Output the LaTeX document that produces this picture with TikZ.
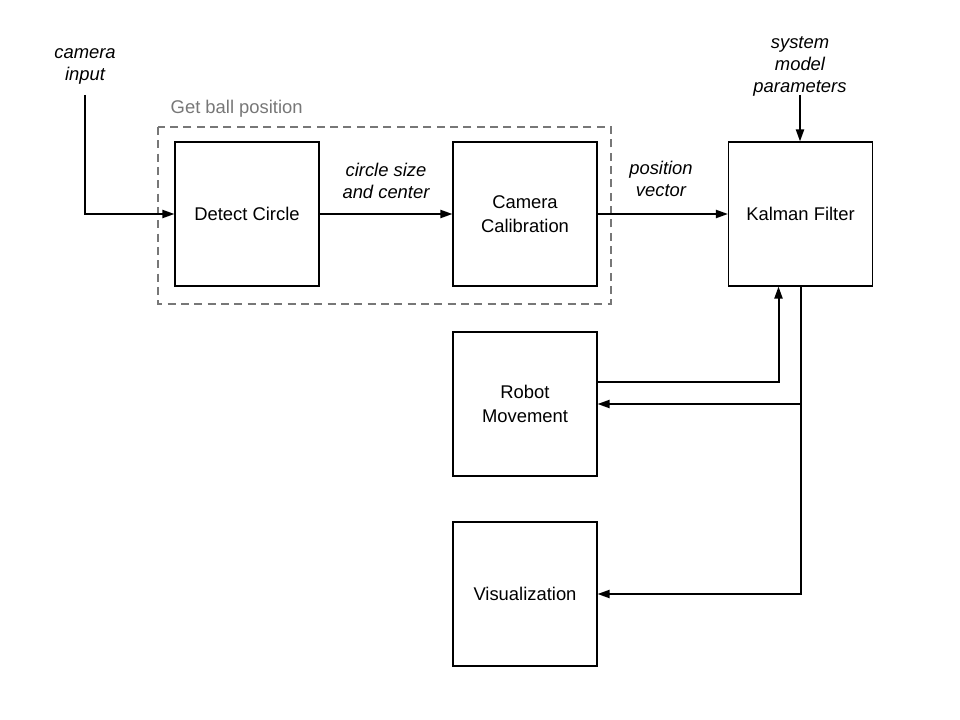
\documentclass[tikz,border=0pt]{standalone}
\usepackage{fontspec}
\setmainfont{Liberation Sans}
\usetikzlibrary{arrows.meta}
\definecolor{grouptxt}{HTML}{777777}
\begin{document}
\begin{tikzpicture}[x=0.75pt,y=-0.75pt,
  font=\fontsize{13.8}{18}\selectfont,
  blockbox/.style={draw=black,line width=0.8pt,minimum width=108pt,minimum height=108pt,align=center,inner sep=0pt,fill=white},
  lbl/.style={align=center,font=\fontsize{13.8}{16.5}\selectfont\itshape},
  conn/.style={line width=1.5pt,-{Triangle[length=9pt,width=6pt]}},
  plain/.style={line width=1.5pt},
  group/.style={draw=grouptxt,line width=1.5pt,dash pattern=on 6pt off 4pt}]
\useasboundingbox (0,0) rectangle (960,720);
\draw[group] (158,127) rectangle (611,304);
\node[anchor=west,text=grouptxt] (grp) at (166,109) {Get ball position};
\node[blockbox] (dc) at (247,214) {Detect Circle};
\node[blockbox] (cc) at (525,214) {Camera\\Calibration};
\node[blockbox] (kf) at (800.5,214) {Kalman Filter};
\node[blockbox] (rm) at (525,404) {Robot\\Movement};
\node[blockbox] (vis) at (525,594) {Visualization};
\node[lbl] (cam) at (85,66) {camera\\input};
\node[lbl] (csc) at (386,181) {circle size\\and center};
\node[lbl] (pv) at (661,179) {position\\vector};
\node[lbl] (smp) at (800,66) {system\\model\\parameters};
\coordinate (camtop) at (85,95);
\coordinate (smptop) at (800,95);
\draw[conn] (camtop) |- (dc.west);
\draw[conn] (dc.east) -- (cc.west);
\draw[conn] (cc.east) -- (kf.west);
\draw[conn] (smptop) -- (kf.north -| smptop);
\coordinate (rmout) at ([yshift=16.5pt]rm.east);
\coordinate (kfin) at ([xshift=-16.5pt]kf.south);
\draw[conn] (rmout) -| (kfin);
\coordinate (split) at (kf.south |- rm.east);
\draw[plain] (kf.south) -- (split);
\draw[conn] (split) -- (rm.east);
\draw[conn] (split) |- (vis.east);
\end{tikzpicture}
\end{document}
